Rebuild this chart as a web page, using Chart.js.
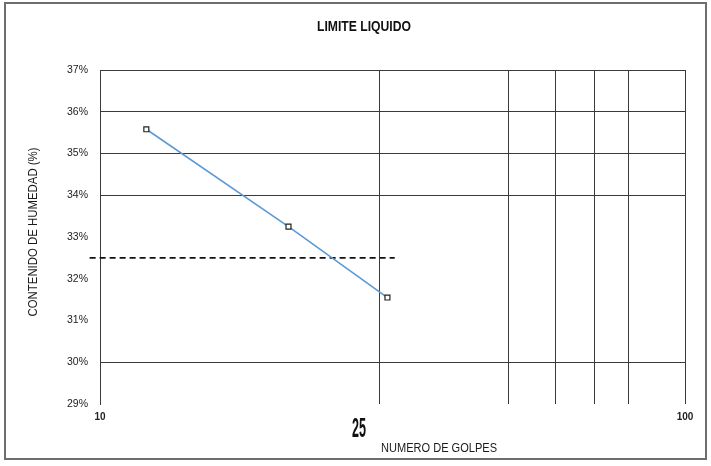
<!DOCTYPE html>
<html>
<head>
<meta charset="utf-8">
<script src="https://cdn.jsdelivr.net/npm/chart.js@4.4.0/dist/chart.umd.min.js"></script>
<style>
  html, body { margin: 0; padding: 0; background: #fff; }
  #wrap { position: relative; width: 711px; height: 466px; }
  canvas { display: block; }
</style>
</head>
<body>
<div id="wrap"><canvas id="c" width="711" height="466"></canvas></div>
<script>
// Ensayo de límite líquido: número de golpes vs. contenido de humedad
const golpes = [12, 21, 31];
const humedad = [35.58, 33.25, 31.55];

// Línea horizontal de referencia (discontinua)
const refGolpes = [9.6, 31.9];
const refHumedad = [32.5, 32.5];

// Ejes
const yMin = 29, yMax = 37;
const yGridLines = [30, 34, 35, 36, 37];
const xGridLines = [30, 50, 60, 70, 80, 100];
const xLabels = [10, 100];

const tituloGrafico = 'LIMITE LIQUIDO';
const tituloX = 'NUMERO DE GOLPES';
const tituloY = 'CONTENIDO DE HUMEDAD (%)';
const anotacion = '25';

const SANS = '"Liberation Sans", Arial, sans-serif';

// Texto estrechado horizontalmente hasta un ancho dado (tipografía condensada)
function textoEstrecho(ctx, txt, x, y, font, ancho, align, angulo) {
  ctx.save();
  ctx.font = font;
  const w = ctx.measureText(txt).width;
  const k = Math.min(1, ancho / w);
  ctx.translate(x, y);
  if (angulo) ctx.rotate(angulo);
  ctx.scale(k, 1);
  ctx.textAlign = align;
  ctx.textBaseline = 'middle';
  ctx.fillText(txt, 0, 0);
  ctx.restore();
}

// Marco, título y rótulos libres
const decoracion = {
  id: 'decoracion',
  beforeDraw(chart) {
    const ctx = chart.ctx;
    ctx.save();
    ctx.fillStyle = '#fff';
    ctx.fillRect(0, 0, chart.width, chart.height);
    ctx.strokeStyle = '#6e6e6e';
    ctx.lineWidth = 2;
    ctx.strokeRect(5, 3, 701, 456);
    ctx.restore();
  },
  afterDraw(chart) {
    const ctx = chart.ctx;
    ctx.save();
    ctx.fillStyle = '#111';
    textoEstrecho(ctx, tituloGrafico, 364, 27, 'bold 14px ' + SANS, 94, 'center');
    ctx.fillStyle = '#1a1a1a';
    textoEstrecho(ctx, tituloX, 381, 449, '12.5px ' + SANS, 116, 'left');
    textoEstrecho(ctx, tituloY, 34, 232, '12.5px ' + SANS, 169, 'center', -Math.PI / 2);
    ctx.fillStyle = '#111';
    textoEstrecho(ctx, anotacion, 359, 430, 'bold 27px ' + SANS, 14, 'center');
    ctx.restore();
  }
};

new Chart(document.getElementById('c'), {
  type: 'scatter',
  data: {
    datasets: [
      {
        label: 'Humedad',
        data: golpes.map((g, i) => ({ x: g, y: humedad[i] })),
        showLine: true,
        borderColor: '#5b9bd5',
        borderWidth: 1.6,
        pointStyle: 'rect',
        pointRadius: 3.5,
        pointBackgroundColor: '#fff',
        pointBorderColor: '#222',
        pointBorderWidth: 1.2,
        order: 1
      },
      {
        label: 'Referencia',
        data: refGolpes.map((g, i) => ({ x: g, y: refHumedad[i] })),
        showLine: true,
        borderColor: '#111',
        borderWidth: 1.8,
        borderDash: [6, 4],
        pointRadius: 0,
        clip: false,
        order: 2
      }
    ]
  },
  options: {
    responsive: false,
    devicePixelRatio: 1,
    animation: false,
    layout: { padding: { top: 70, right: 26, bottom: 0, left: 0 } },
    plugins: {
      legend: { display: false },
      title: { display: false },
      tooltip: { enabled: false }
    },
    scales: {
      x: {
        type: 'logarithmic',
        min: 10,
        max: 100,
        afterBuildTicks(scale) {
          scale.ticks = [10, ...xGridLines].map(v => ({ value: v }));
        },
        afterFit(scale) { scale.height = 62; },
        border: { display: false },
        grid: {
          drawTicks: false,
          color: c => (c.tick && xGridLines.includes(c.tick.value)) ? '#3a3a3a' : 'rgba(0,0,0,0)',
          lineWidth: 1
        },
        ticks: {
          autoSkip: false,
          maxRotation: 0,
          padding: 7,
          color: '#222',
          font: { family: SANS, size: 10, weight: 'bold' },
          callback: v => xLabels.includes(v) ? String(v) : ''
        }
      },
      y: {
        min: yMin,
        max: yMax,
        afterFit(scale) { scale.width = 100; },
        border: { display: true, color: '#3a3a3a', width: 1 },
        grid: {
          drawTicks: false,
          color: c => (c.tick && yGridLines.includes(c.tick.value)) ? '#3a3a3a' : 'rgba(0,0,0,0)',
          lineWidth: 1
        },
        ticks: {
          stepSize: 1,
          padding: 12,
          color: '#222',
          font: { family: SANS, size: 10.5 },
          callback: v => v + '%'
        }
      }
    }
  },
  plugins: [decoracion]
});
</script>
</body>
</html>
